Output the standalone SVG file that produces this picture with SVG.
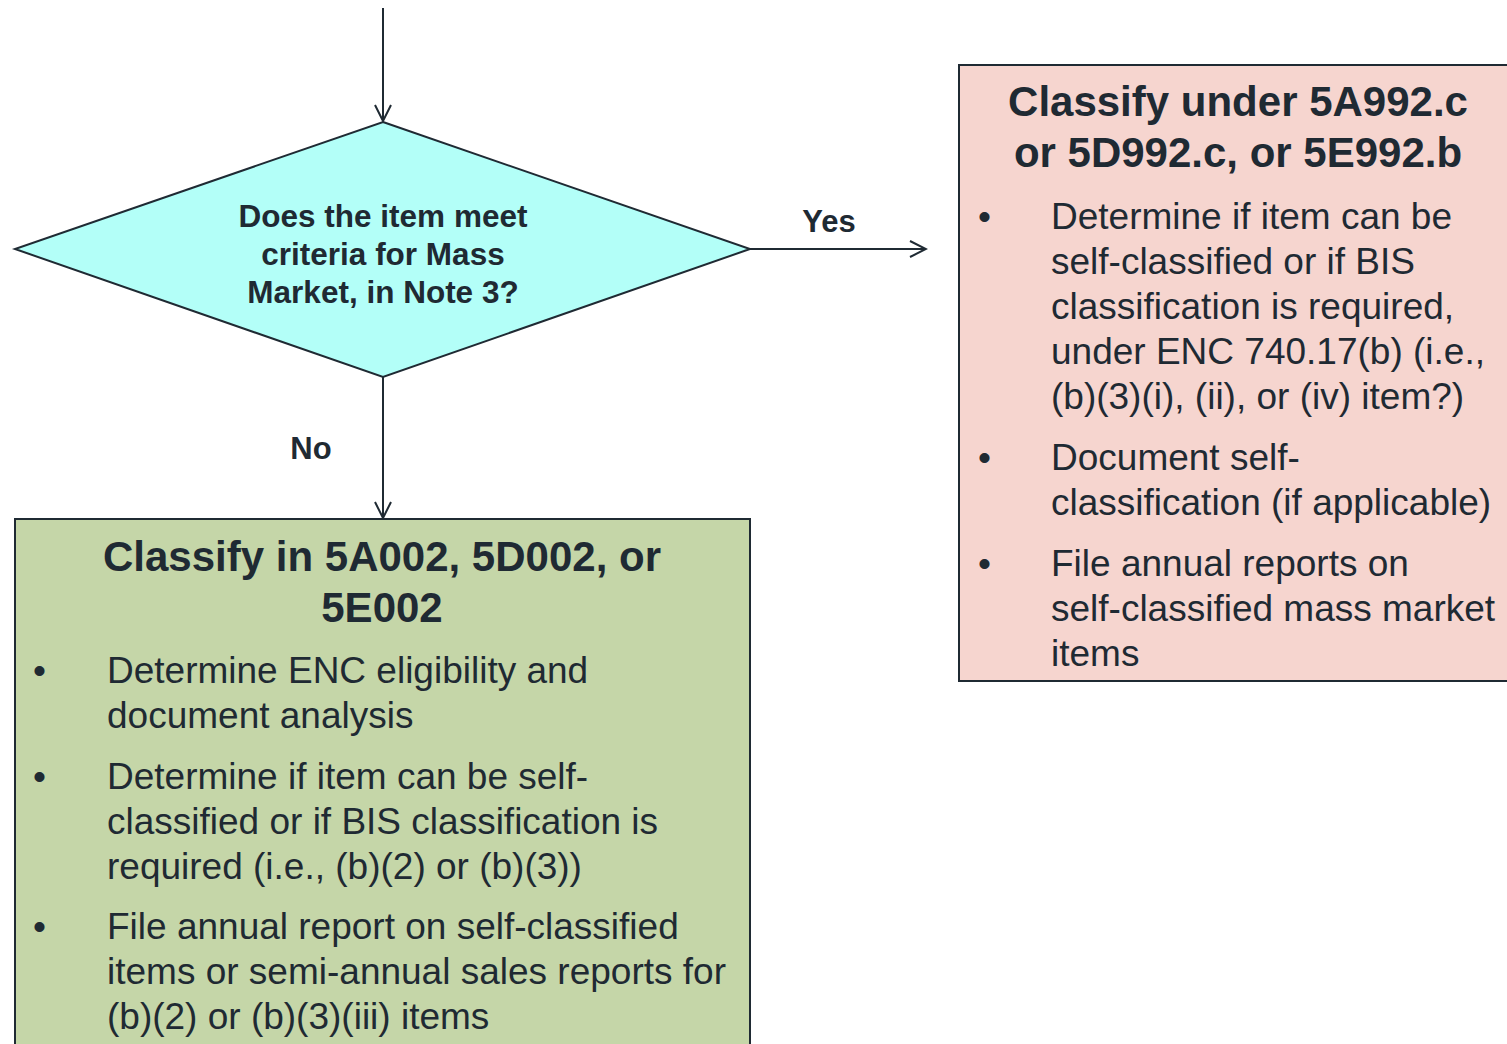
<svg xmlns="http://www.w3.org/2000/svg" width="1507" height="1044" viewBox="0 0 1507 1044">
<style>
.t{font-family:"Liberation Sans",Arial,sans-serif;fill:#1f2a33}
.b{font-weight:bold}
.body{font-size:37px}
.ttl{font-size:42px;font-weight:bold;text-anchor:middle}
.dt{font-size:31.5px;font-weight:bold;text-anchor:middle}
.edge{stroke:#1f2a33;stroke-width:2;fill:none}
</style>
<defs>
<marker id="arr" viewBox="0 0 20 20" refX="18" refY="10" markerWidth="20" markerHeight="20" markerUnits="userSpaceOnUse" orient="auto">
<path d="M2,2 L18,10 L2,18" fill="none" stroke="#1f2a33" stroke-width="2"/>
</marker>
</defs>
<rect width="1507" height="1044" fill="#ffffff"/>
<g id="connectors">
<line class="edge" x1="383" y1="8" x2="383" y2="121" marker-end="url(#arr)"/>
<line class="edge" x1="750" y1="249" x2="926" y2="249" marker-end="url(#arr)"/>
<line class="edge" x1="383" y1="377" x2="383" y2="518" marker-end="url(#arr)"/>
<text class="t b" x="829" y="232" font-size="31" text-anchor="middle">Yes</text>
<text class="t b" x="311" y="459" font-size="31" text-anchor="middle">No</text>
</g>
<g id="decision">
<polygon points="383,122 750,249 383,377 15,249" fill="#b3fff8" stroke="#1f2a33" stroke-width="2"/>
<text class="t dt" x="383" y="227">Does the item meet</text>
<text class="t dt" x="383" y="265">criteria for Mass</text>
<text class="t dt" x="383" y="303">Market, in Note 3?</text>
</g>
<g id="yes-box">
<rect x="959" y="65" width="560" height="616" fill="#f6d5cf" stroke="#1f2a33" stroke-width="2"/>
<text class="t ttl" x="1238" y="116">Classify under 5A992.c</text>
<text class="t ttl" x="1238" y="167">or 5D992.c, or 5E992.b</text>
<text class="t body" x="978" y="229">•</text>
<text class="t body" x="1051" y="229">Determine if item can be</text>
<text class="t body" x="1051" y="274">self-classified or if BIS</text>
<text class="t body" x="1051" y="319">classification is required,</text>
<text class="t body" x="1051" y="364">under ENC 740.17(b) (i.e.,</text>
<text class="t body" x="1051" y="409">(b)(3)(i), (ii), or (iv) item?)</text>
<text class="t body" x="978" y="470">•</text>
<text class="t body" x="1051" y="470">Document self-</text>
<text class="t body" x="1051" y="515">classification (if applicable)</text>
<text class="t body" x="978" y="576">•</text>
<text class="t body" x="1051" y="576">File annual reports on</text>
<text class="t body" x="1051" y="621">self-classified mass market</text>
<text class="t body" x="1051" y="666">items</text>
</g>
<g id="no-box">
<rect x="15" y="519" width="735" height="540" fill="#c5d6a8" stroke="#1f2a33" stroke-width="2"/>
<text class="t ttl" x="382" y="571">Classify in 5A002, 5D002, or</text>
<text class="t ttl" x="382" y="622">5E002</text>
<text class="t body" x="33" y="683">•</text>
<text class="t body" x="107" y="683">Determine ENC eligibility and</text>
<text class="t body" x="107" y="728">document analysis</text>
<text class="t body" x="33" y="789">•</text>
<text class="t body" x="107" y="789">Determine if item can be self-</text>
<text class="t body" x="107" y="834">classified or if BIS classification is</text>
<text class="t body" x="107" y="879">required (i.e., (b)(2) or (b)(3))</text>
<text class="t body" x="33" y="939">•</text>
<text class="t body" x="107" y="939">File annual report on self-classified</text>
<text class="t body" x="107" y="984">items or semi-annual sales reports for</text>
<text class="t body" x="107" y="1029">(b)(2) or (b)(3)(iii) items</text>
</g>
</svg>
